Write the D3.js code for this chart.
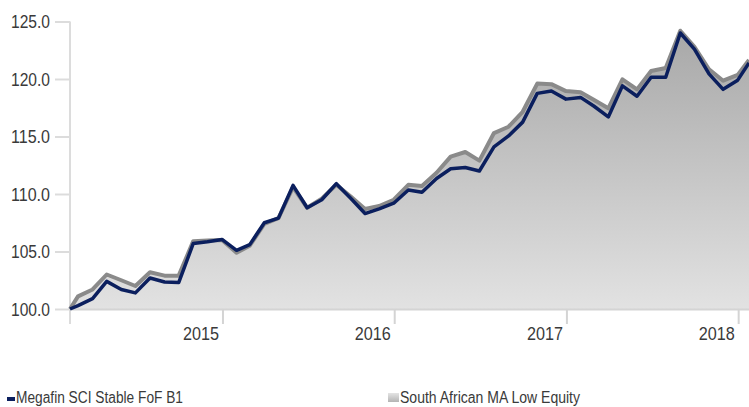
<!DOCTYPE html>
<html>
<head>
<meta charset="utf-8">
<script src="https://cdn.jsdelivr.net/npm/d3@7"></script>
<style>
  body { margin: 0; background: #fff; }
  svg { display: block; font-family: "Liberation Sans", Arial, sans-serif; }
</style>
</head>
<body>
<div id="chart"></div>
<script>
// Month-end observation dates
const dates = [
  "2014-02-11","2014-02-28","2014-03-31","2014-04-30","2014-05-31","2014-06-30","2014-07-31","2014-08-31","2014-09-30","2014-10-31","2014-11-30","2014-12-31",
  "2015-01-31","2015-02-28","2015-03-31","2015-04-30","2015-05-31","2015-06-30","2015-07-31","2015-08-31","2015-09-30","2015-10-31","2015-11-30","2015-12-31",
  "2016-01-31","2016-02-29","2016-03-31","2016-04-30","2016-05-31","2016-06-30","2016-07-31","2016-08-31","2016-09-30","2016-10-31","2016-11-30","2016-12-31",
  "2017-01-31","2017-02-28","2017-03-31","2017-04-30","2017-05-31","2017-06-30","2017-07-31","2017-08-31","2017-09-30","2017-10-31","2017-11-30","2017-12-31",
  "2018-01-24"
];

// Megafin SCI Stable FoF B1 (growth of 100)
const fundValues = [
  100.0,100.3,100.9,102.4,101.7,101.4,102.7,102.35,102.3,105.7,105.85,106.05,
  105.1,105.6,107.5,107.9,110.75,108.8,109.5,110.9,109.65,108.3,108.7,109.2,
  110.35,110.15,111.35,112.2,112.3,112.0,114.1,115.05,116.25,118.75,118.95,118.25,
  118.4,117.65,116.7,119.4,118.5,120.15,120.15,124.0,122.6,120.45,119.1,119.9,
  121.4
];

// South African MA Low Equity (category)
const categoryValues = [
  100.0,101.1,101.7,103.0,102.5,102.0,103.2,102.9,102.9,105.9,105.95,106.0,
  104.9,105.5,107.4,107.9,110.6,108.8,109.6,110.8,109.8,108.7,108.95,109.5,
  110.8,110.7,111.85,113.25,113.65,112.9,115.3,115.85,117.15,119.6,119.55,118.95,
  118.85,118.2,117.45,119.97,119.1,120.7,120.95,124.2,122.8,120.85,119.85,120.35,
  121.65
];

const yTicks = [100, 105, 110, 115, 120, 125];
const xTickYears = ["2015", "2016", "2017", "2018"];
const seriesNames = ["Megafin SCI Stable FoF B1", "South African MA Low Equity"];

const width = 749, height = 407;
const plot = { left: 70, right: 749, top: 21.5, bottom: 309 };

const parse = d3.timeParse("%Y-%m-%d");
const data = dates.map((d, i) => ({ date: parse(d), fund: fundValues[i], cat: categoryValues[i] }));

const x = d3.scaleTime().domain(d3.extent(data, d => d.date)).range([plot.left, plot.right]);
const y = d3.scaleLinear().domain([100, 125]).range([plot.bottom, plot.top]);

const svg = d3.select("#chart").append("svg").attr("width", width).attr("height", height);

const defs = svg.append("defs");
const grad = defs.append("linearGradient").attr("id", "areaGrad")
  .attr("gradientUnits", "userSpaceOnUse")
  .attr("x1", 0).attr("x2", 0).attr("y1", y(125)).attr("y2", y(100));
grad.append("stop").attr("offset", 0).attr("stop-color", "#a6a6a6");
grad.append("stop").attr("offset", 1).attr("stop-color", "#e2e2e2");

const legGrad = defs.append("linearGradient").attr("id", "legGrad")
  .attr("x1", 0).attr("x2", 0).attr("y1", 0).attr("y2", 1);
legGrad.append("stop").attr("offset", 0).attr("stop-color", "#e4e4e4");
legGrad.append("stop").attr("offset", 1).attr("stop-color", "#b4b4b4");

// Area under category line
svg.append("path").datum(data)
  .attr("fill", "url(#areaGrad)")
  .attr("d", d3.area().x(d => x(d.date)).y0(y(100)).y1(d => y(d.cat)));

// X axis baseline + ticks
const xAxis = svg.append("g").attr("transform", `translate(0,${plot.bottom})`)
  .call(d3.axisBottom(x)
    .tickValues(xTickYears.map(yr => d3.timeParse("%Y")(yr)))
    .tickFormat(d3.timeFormat("%Y"))
    .tickSize(15).tickSizeOuter(0));
xAxis.select(".domain").attr("stroke", "#d4d4d4").attr("stroke-width", 2);
xAxis.selectAll(".tick line").attr("stroke", "#d4d4d4").attr("stroke-width", 2);
// condensed look: squeeze labels to the narrow widths seen in the original
xAxis.selectAll(".tick text")
  .attr("text-anchor", "end").attr("x", -4).attr("y", 31).attr("dy", 0)
  .attr("textLength", 36).attr("lengthAdjust", "spacingAndGlyphs")
  .attr("fill", "#3a3a3a").style("font-size", "18.5px");

// Y axis
const yAxis = svg.append("g").attr("transform", `translate(${plot.left},0)`)
  .call(d3.axisLeft(y).tickValues(yTicks).tickFormat(d3.format(".1f")).tickSize(15).tickSizeOuter(0));
yAxis.select(".domain").attr("stroke", "#dcdcdc").attr("stroke-width", 2)
  .attr("d", `M0,${plot.top}V${plot.bottom + 15}`);
yAxis.selectAll(".tick line").attr("stroke", "#dcdcdc").attr("stroke-width", 2);
yAxis.selectAll(".tick text").attr("x", -20).attr("dy", "0.35em")
  .attr("textLength", 39).attr("lengthAdjust", "spacingAndGlyphs")
  .attr("fill", "#3a3a3a").style("font-size", "18.5px");

// Lines
svg.append("path").datum(data)
  .attr("fill", "none").attr("stroke", "#8a8a8a").attr("stroke-width", 4).attr("stroke-linejoin", "round")
  .attr("d", d3.line().x(d => x(d.date)).y(d => y(d.cat)));
svg.append("path").datum(data)
  .attr("fill", "none").attr("stroke", "#0b1f5e").attr("stroke-width", 3.5).attr("stroke-linejoin", "round")
  .attr("d", d3.line().x(d => x(d.date)).y(d => y(d.fund)));

// Legend
const legend = svg.append("g");
legend.append("rect").attr("x", 7).attr("y", 397).attr("width", 8).attr("height", 4).attr("fill", "#0b1f5e");
legend.append("text").attr("x", 16).attr("y", 403).attr("fill", "#3a3a3a").style("font-size", "16px")
  .attr("textLength", 167).attr("lengthAdjust", "spacingAndGlyphs").text(seriesNames[0]);
legend.append("rect").attr("x", 388).attr("y", 393).attr("width", 11).attr("height", 9).attr("fill", "url(#legGrad)");
legend.append("text").attr("x", 400).attr("y", 403).attr("fill", "#3a3a3a").style("font-size", "16px")
  .attr("textLength", 180).attr("lengthAdjust", "spacingAndGlyphs").text(seriesNames[1]);
</script>
</body>
</html>
